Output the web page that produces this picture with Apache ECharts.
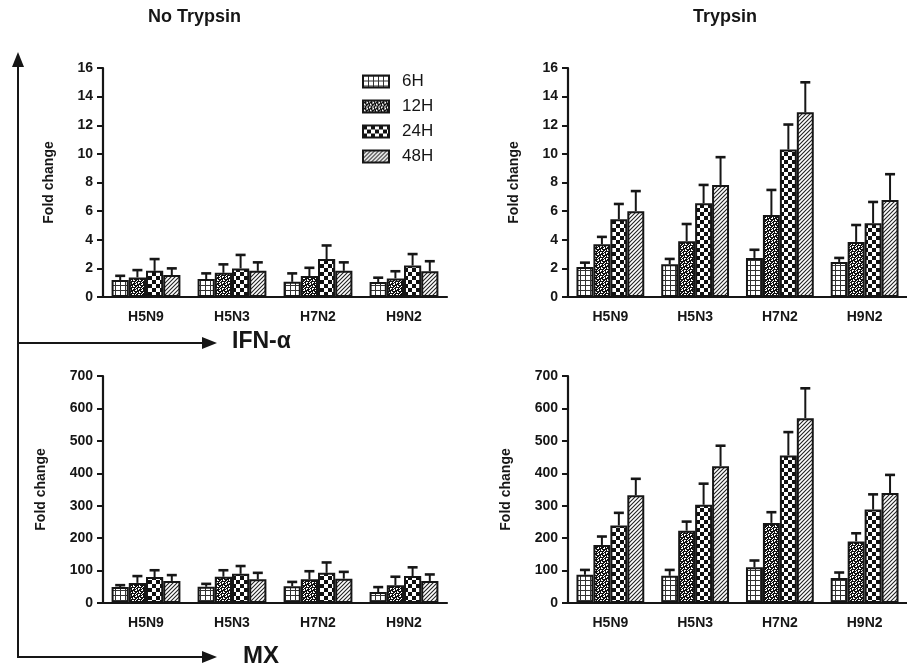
<!DOCTYPE html>
<html>
<head>
<meta charset="utf-8">
<script src="https://cdn.jsdelivr.net/npm/echarts@6/dist/echarts.min.js"></script>
<style>
html, body { margin: 0; padding: 0; background: #fff; }
#main { width: 907px; height: 669px; }
</style>
</head>
<body>
<div id="main"></div>
<script>
var categories = ['H5N9', 'H5N3', 'H7N2', 'H9N2'];
var times = ['6H', '12H', '24H', '48H'];
var ifnTicks = [0, 16, 2];   // min, max, interval
var mxTicks = [0, 700, 100];

// IFN-alpha, no trypsin (mean, upper error)
var ifnNo6 = [1.18, 1.25, 1.06, 1.05],  ifnNo6Err = [0.30, 0.40, 0.59, 0.30];
var ifnNo12 = [1.37, 1.69, 1.46, 1.30], ifnNo12Err = [0.51, 0.59, 0.58, 0.50];
var ifnNo24 = [1.83, 2.00, 2.65, 2.20], ifnNo24Err = [0.82, 0.94, 0.95, 0.80];
var ifnNo48 = [1.53, 1.83, 1.83, 1.80], ifnNo48Err = [0.47, 0.59, 0.59, 0.70];

// IFN-alpha, trypsin
var ifnTr6 = [2.10, 2.29, 2.73, 2.45],   ifnTr6Err = [0.30, 0.37, 0.57, 0.28];
var ifnTr12 = [3.68, 3.90, 5.73, 3.85],  ifnTr12Err = [0.52, 1.20, 1.75, 1.18];
var ifnTr24 = [5.43, 6.55, 10.30, 5.15], ifnTr24Err = [1.07, 1.28, 1.75, 1.49];
var ifnTr48 = [6.00, 7.83, 12.90, 6.78], ifnTr48Err = [1.40, 1.94, 2.10, 1.80];

// MX, no trypsin
var mxNo6 = [49, 50, 52, 34],  mxNo6Err = [6, 9, 13, 15];
var mxNo12 = [62, 81, 73, 55], mxNo12Err = [21, 20, 25, 26];
var mxNo24 = [80, 90, 93, 83], mxNo24Err = [21, 24, 32, 27];
var mxNo48 = [68, 73, 75, 68], mxNo48Err = [18, 20, 21, 20];

// MX, trypsin
var mxTr6 = [87, 84, 110, 77],     mxTr6Err = [15, 18, 21, 17];
var mxTr12 = [179, 223, 247, 190], mxTr12Err = [26, 28, 33, 25];
var mxTr24 = [239, 303, 455, 288], mxTr24Err = [39, 65, 72, 47];
var mxTr48 = [332, 422, 570, 339], mxTr48Err = [51, 63, 92, 56];

var ink = '#161616';
var fam = '"Liberation Sans"';

// fill patterns
function tile(w, h, draw) {
	var c = document.createElement('canvas');
	c.width = w; c.height = h;
	var ctx = c.getContext('2d');
	draw(ctx);
	return { image: c, repeat: 'repeat' };
}
var patGrid = tile(5, 5, function (ctx) {
	ctx.fillStyle = '#fff'; ctx.fillRect(0, 0, 5, 5);
	ctx.fillStyle = '#333'; ctx.fillRect(0, 0, 5, 1); ctx.fillRect(0, 0, 1, 5);
});
var patSpeckle = tile(6, 6, function (ctx) {
	ctx.fillStyle = '#111'; ctx.fillRect(0, 0, 6, 6);
	ctx.fillStyle = '#fff';
	var pts = [[0,0],[1,0],[0,1],[4,1],[3,2],[4,2],[1,3],[1,4],[2,4],[5,4],[4,5],[3,0]];
	pts.forEach(function (p) { ctx.fillRect(p[0], p[1], 1, 1); });
});
var patCheck = tile(8, 8, function (ctx) {
	ctx.fillStyle = '#fff'; ctx.fillRect(0, 0, 8, 8);
	ctx.fillStyle = '#111'; ctx.fillRect(0, 0, 4, 4); ctx.fillRect(4, 4, 4, 4);
});
var patHatch = tile(4, 4, function (ctx) {
	ctx.fillStyle = '#fff'; ctx.fillRect(0, 0, 4, 4);
	ctx.strokeStyle = '#222'; ctx.lineWidth = 1.1;
	ctx.beginPath();
	ctx.moveTo(-1, 5); ctx.lineTo(5, -1);
	ctx.moveTo(-1, 1); ctx.lineTo(1, -1);
	ctx.moveTo(3, 5); ctx.lineTo(5, 3);
	ctx.stroke();
});
var patterns = [patGrid, patSpeckle, patCheck, patHatch];

var panels = [
	{ means: [ifnNo6, ifnNo12, ifnNo24, ifnNo48], errs: [ifnNo6Err, ifnNo12Err, ifnNo24Err, ifnNo48Err], ticks: ifnTicks, nameGap: 47 },
	{ means: [ifnTr6, ifnTr12, ifnTr24, ifnTr48], errs: [ifnTr6Err, ifnTr12Err, ifnTr24Err, ifnTr48Err], ticks: ifnTicks, nameGap: 47 },
	{ means: [mxNo6, mxNo12, mxNo24, mxNo48], errs: [mxNo6Err, mxNo12Err, mxNo24Err, mxNo48Err], ticks: mxTicks, nameGap: 55 },
	{ means: [mxTr6, mxTr12, mxTr24, mxTr48], errs: [mxTr6Err, mxTr12Err, mxTr24Err, mxTr48Err], ticks: mxTicks, nameGap: 55 }
];

var grids = [
	{ left: 103, top: 68, width: 344, height: 229 },
	{ left: 568, top: 68, width: 342, height: 229 },
	{ left: 103, top: 376, width: 344, height: 227 },
	{ left: 568, top: 376, width: 342, height: 227 }
];

var xAxes = [], yAxes = [], series = [];
panels.forEach(function (p, g) {
	xAxes.push({
		type: 'category', gridIndex: g, data: categories,
		axisLine: { lineStyle: { color: ink, width: 2.2 } },
		axisTick: { alignWithLabel: true, length: 6, lineStyle: { color: ink, width: 2 } },
		axisLabel: { color: ink, fontWeight: 'bold', fontSize: 14, margin: 13, fontFamily: fam }
	});
	yAxes.push({
		type: 'value', gridIndex: g, min: p.ticks[0], max: p.ticks[1], interval: p.ticks[2],
		name: 'Fold change', nameLocation: 'middle', nameRotate: 90, nameGap: p.nameGap,
		nameTextStyle: { color: ink, fontWeight: 'bold', fontSize: 14, fontFamily: fam },
		axisLine: { show: true, lineStyle: { color: ink, width: 2.2 } },
		axisTick: { show: true, length: 6, lineStyle: { color: ink, width: 2 } },
		axisLabel: { color: ink, fontWeight: 'bold', fontSize: 14, margin: 10, fontFamily: fam },
		splitLine: { show: false }
	});
	times.forEach(function (t, i) {
		series.push({
			name: t, type: 'bar', xAxisIndex: g, yAxisIndex: g,
			data: p.means[i], barGap: '0%', barCategoryGap: '20%',
			itemStyle: { color: patterns[i], borderColor: ink, borderWidth: 2 },
			silent: true
		});
	});
	times.forEach(function (t, i) {
		series.push({
			name: t + ' err', type: 'custom', xAxisIndex: g, yAxisIndex: g, z: 5,
			encode: { x: 0, y: [1, 2] }, silent: true,
			data: p.means[i].map(function (m, k) { return [k, m, m + p.errs[i][k]]; }),
			renderItem: function (params, api) {
				var base = api.coord([api.value(0), api.value(1)]);
				var top = api.coord([api.value(0), api.value(2)]);
				var bw = api.size([1, 0])[0] * 0.8 / 4;
				var x = base[0] + (i - 1.5) * bw;
				return {
					type: 'group',
					children: [
						{ type: 'line', shape: { x1: x, y1: base[1], x2: x, y2: top[1] }, style: { stroke: ink, lineWidth: 2 } },
						{ type: 'line', shape: { x1: x - 5, y1: top[1], x2: x + 5, y2: top[1] }, style: { stroke: ink, lineWidth: 2.6 } }
					]
				};
			}
		});
	});
});

var myChart = echarts.init(document.getElementById('main'));
myChart.setOption({
	animation: false,
	backgroundColor: '#fff',
	grid: grids,
	xAxis: xAxes,
	yAxis: yAxes,
	legend: {
		data: times, orient: 'vertical', left: 357, top: 68,
		icon: 'rect', itemWidth: 26, itemHeight: 12, itemGap: 8,
		textStyle: { color: ink, fontSize: 17, fontFamily: fam, padding: [0, 0, 0, 8] },
		selectedMode: false
	},
	graphic: [
		{ type: 'text', left: 148, top: 8, style: { text: 'No Trypsin', fill: ink, font: 'bold 18px ' + fam } },
		{ type: 'text', left: 693, top: 8, style: { text: 'Trypsin', fill: ink, font: 'bold 18px ' + fam } },
		{ type: 'polyline', shape: { points: [[18, 62], [18, 657], [206, 657]] }, style: { stroke: ink, lineWidth: 2, fill: null } },
		{ type: 'line', shape: { x1: 18, y1: 343, x2: 206, y2: 343 }, style: { stroke: ink, lineWidth: 2 } },
		{ type: 'polygon', shape: { points: [[18, 52], [12, 67], [24, 67]] }, style: { fill: ink } },
		{ type: 'polygon', shape: { points: [[217, 343], [202, 337], [202, 349]] }, style: { fill: ink } },
		{ type: 'polygon', shape: { points: [[217, 657], [202, 651], [202, 663]] }, style: { fill: ink } },
		{ type: 'text', left: 232, top: 330, style: { text: 'IFN-α', fill: ink, font: 'bold 23px ' + fam } },
		{ type: 'text', left: 243, top: 644, style: { text: 'MX', fill: ink, font: 'bold 24px ' + fam } }
	],
	series: series
});
</script>
</body>
</html>
